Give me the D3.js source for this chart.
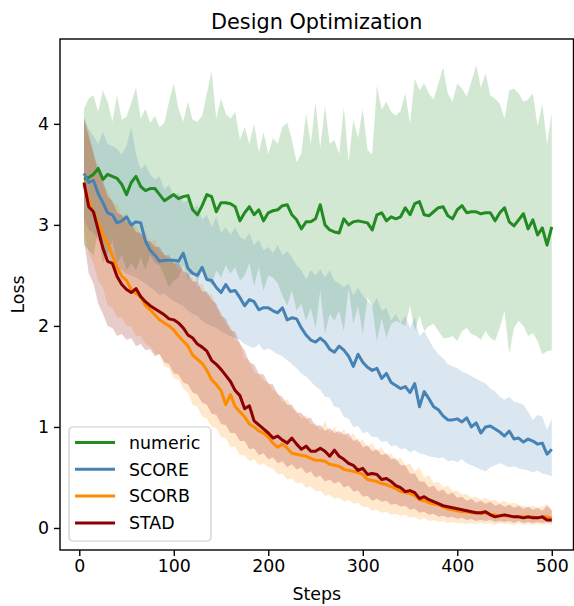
<!DOCTYPE html>
<html>
<head>
<meta charset="utf-8">
<script src="https://cdn.jsdelivr.net/npm/d3@7"></script>
<style>
  body { margin: 0; background: #fff; }
  svg { font-family: "DejaVu Sans", sans-serif; }
</style>
</head>
<body>
<svg class="one" width="574" height="606"></svg>
<script>
// steps sampled every 5 from 5 to 500
var steps = d3.range(5, 505, 5);

var seriesNames = ['numeric', 'SCORE', 'SCORB', 'STAD'];
var seriesColors = ['#228b22', '#4682b4', '#ff8c00', '#8b0000'];

var xTicks = [0, 100, 200, 300, 400, 500];
var yTicks = [0, 1, 2, 3, 4];

var numericMean = [
  3.45,3.47,3.50,3.56,3.45,3.50,3.48,3.46,3.40,3.30,
  3.42,3.48,3.38,3.34,3.36,3.36,3.30,3.24,3.27,3.30,
  3.26,3.28,3.29,3.15,3.10,3.19,3.30,3.28,3.13,3.22,
  3.22,3.21,3.18,3.04,3.12,3.18,3.10,3.15,3.04,3.12,
  3.14,3.15,3.19,3.20,3.10,3.05,2.96,3.03,3.03,3.06,
  3.20,3.00,2.95,2.93,2.92,3.06,3.00,3.03,3.04,3.03,
  3.02,2.95,3.10,3.12,3.04,3.08,3.06,3.08,3.17,3.10,
  3.21,3.23,3.10,3.09,3.13,3.17,3.18,3.09,3.06,3.15,
  3.19,3.12,3.13,3.13,3.11,3.12,3.12,3.04,3.12,3.17,
  3.03,2.99,3.05,3.11,2.96,3.05,2.90,2.97,2.80,2.98];
var numericHi = [
  4.15,4.25,4.28,4.12,4.33,4.22,4.02,4.28,4.04,4.07,
  4.21,4.36,4.05,4.15,4.01,4.08,3.97,4.01,4.22,4.40,
  4.15,4.02,4.22,4.04,4.02,4.08,4.30,4.52,4.05,4.25,
  4.10,4.05,4.12,3.84,3.97,3.80,4.00,3.72,3.92,3.70,
  3.86,3.80,3.97,4.01,3.84,3.62,3.71,4.10,3.80,4.22,
  3.76,4.18,3.80,3.84,3.70,4.17,3.62,4.04,3.86,4.15,
  3.74,3.70,4.38,4.14,4.22,4.12,4.08,4.13,4.30,4.00,
  4.45,4.33,4.40,4.30,4.24,4.40,4.56,4.30,4.22,4.40,
  4.35,4.27,4.42,4.58,4.36,4.50,4.28,4.25,4.20,4.05,
  4.33,4.35,4.30,4.22,4.24,4.30,3.98,4.20,3.80,4.11];
var numericLo = [
  2.80,2.75,2.70,2.95,2.62,2.72,2.85,2.62,2.70,2.55,
  2.62,2.55,2.68,2.55,2.70,2.62,2.60,2.50,2.38,2.45,
  2.48,2.60,2.45,2.55,2.42,2.58,2.50,2.40,2.55,2.48,
  2.60,2.52,2.58,2.45,2.50,2.62,2.40,2.58,2.35,2.50,
  2.48,2.42,2.30,2.20,2.35,2.15,2.22,2.05,2.18,1.98,
  2.35,1.92,2.12,2.05,2.15,1.95,2.38,2.02,2.20,1.92,
  2.28,2.20,1.85,2.08,1.88,2.02,2.05,2.03,2.00,2.20,
  1.95,2.10,1.95,2.00,2.02,1.95,1.88,1.88,1.90,1.85,
  1.95,1.98,1.92,1.90,1.86,1.95,1.88,1.85,1.98,2.15,
  1.72,1.98,2.05,2.00,1.90,1.93,1.85,1.72,1.75,1.76];

var scoreMean = [
  3.51,3.42,3.44,3.31,3.22,3.12,3.10,3.02,3.04,3.08,
  3.00,3.03,3.02,2.84,2.75,2.70,2.64,2.65,2.65,2.65,
  2.64,2.72,2.57,2.52,2.50,2.58,2.46,2.45,2.38,2.33,
  2.41,2.34,2.35,2.28,2.20,2.26,2.24,2.16,2.18,2.18,
  2.15,2.13,2.18,2.06,2.08,2.07,1.98,1.91,1.86,1.84,
  1.88,1.84,1.77,1.74,1.80,1.76,1.70,1.60,1.72,1.64,
  1.59,1.56,1.58,1.48,1.53,1.44,1.41,1.38,1.40,1.34,
  1.43,1.20,1.35,1.28,1.20,1.17,1.11,1.07,1.07,1.08,
  1.05,1.09,1.00,1.04,0.94,1.00,1.01,0.98,0.95,0.91,
  0.96,0.88,0.89,0.85,0.88,0.86,0.83,0.84,0.73,0.78];
var scoreHi = [
  4.07,3.95,3.88,3.80,3.92,3.80,3.78,3.75,3.70,3.78,
  3.97,3.70,3.55,3.60,3.50,3.45,3.48,3.35,3.40,3.28,
  3.32,3.22,3.25,3.15,3.20,3.05,3.10,2.98,3.08,2.92,
  2.98,2.90,2.98,2.88,2.85,2.92,2.80,2.85,2.75,2.78,
  2.72,2.80,2.70,2.74,2.68,2.60,2.55,2.46,2.55,2.50,
  2.56,2.48,2.55,2.45,2.42,2.38,2.42,2.30,2.38,2.30,
  2.25,2.20,2.28,2.15,2.18,2.05,2.12,2.03,2.10,1.98,
  2.09,1.90,1.95,1.86,1.78,1.72,1.68,1.62,1.60,1.58,
  1.55,1.53,1.50,1.48,1.45,1.43,1.38,1.35,1.30,1.27,
  1.30,1.25,1.24,1.22,1.15,1.07,1.12,1.10,0.97,1.08];
var scoreLo = [
  3.05,2.95,2.92,2.85,2.75,2.70,2.62,2.58,2.55,2.52,
  2.50,2.48,2.45,2.42,2.38,2.35,2.30,2.32,2.28,2.25,
  2.22,2.20,2.15,2.12,2.10,2.05,2.02,2.00,1.98,1.95,
  1.92,1.90,1.88,1.86,1.82,1.80,1.78,1.82,1.76,1.78,
  1.75,1.72,1.70,1.66,1.62,1.58,1.53,1.50,1.45,1.40,
  1.37,1.30,1.29,1.20,1.19,1.10,1.08,1.00,1.01,0.94,
  0.95,0.90,0.90,0.85,0.86,0.81,0.82,0.78,0.79,0.75,
  0.77,0.74,0.73,0.71,0.70,0.69,0.70,0.66,0.67,0.65,
  0.68,0.64,0.62,0.60,0.58,0.56,0.60,0.62,0.64,0.62,
  0.60,0.61,0.59,0.58,0.57,0.55,0.57,0.54,0.53,0.51];

var scorbMean = [
  3.40,3.24,3.12,3.02,2.90,2.82,2.70,2.58,2.49,2.45,
  2.36,2.32,2.29,2.20,2.16,2.11,2.06,2.03,2.00,1.96,
  1.90,1.85,1.80,1.71,1.67,1.63,1.56,1.47,1.42,1.36,
  1.22,1.32,1.20,1.15,1.10,1.03,1.00,0.96,0.94,0.90,
  0.84,0.80,0.83,0.79,0.74,0.73,0.72,0.71,0.69,0.67,
  0.67,0.66,0.63,0.62,0.61,0.58,0.57,0.56,0.55,0.53,
  0.48,0.47,0.46,0.44,0.43,0.41,0.39,0.36,0.35,0.34,
  0.32,0.28,0.27,0.25,0.24,0.23,0.21,0.19,0.18,0.17,
  0.16,0.16,0.15,0.15,0.14,0.15,0.13,0.13,0.12,0.12,
  0.12,0.11,0.11,0.11,0.11,0.11,0.10,0.11,0.11,0.10];
var scorbHi = [
  4.05,3.92,3.68,3.60,3.38,3.34,3.22,3.20,3.08,3.12,
  3.00,2.99,2.90,2.94,2.82,2.86,2.74,2.72,2.62,2.66,
  2.55,2.58,2.46,2.50,2.38,2.42,2.30,2.32,2.18,2.14,
  2.02,2.00,1.86,1.84,1.68,1.66,1.54,1.52,1.46,1.44,
  1.36,1.34,1.24,1.28,1.18,1.16,1.08,1.12,1.02,1.04,
  0.96,1.06,0.94,1.00,0.92,0.98,0.88,0.94,0.84,0.88,
  0.80,0.84,0.76,0.80,0.72,0.74,0.66,0.70,0.62,0.64,
  0.56,0.60,0.50,0.52,0.44,0.46,0.40,0.42,0.36,0.37,
  0.33,0.34,0.30,0.31,0.28,0.30,0.27,0.28,0.25,0.27,
  0.24,0.25,0.23,0.22,0.21,0.22,0.20,0.21,0.24,0.18];
var scorbLo = [
  2.95,2.72,2.62,2.45,2.38,2.20,2.18,2.08,2.08,2.00,
  2.00,1.90,1.90,1.82,1.80,1.72,1.72,1.60,1.58,1.48,
  1.47,1.38,1.34,1.22,1.20,1.10,1.08,1.00,0.99,0.90,
  0.89,0.80,0.81,0.72,0.72,0.66,0.68,0.62,0.64,0.60,
  0.59,0.53,0.54,0.48,0.49,0.44,0.45,0.40,0.41,0.36,
  0.37,0.32,0.33,0.29,0.30,0.26,0.28,0.24,0.25,0.21,
  0.21,0.17,0.18,0.15,0.16,0.13,0.14,0.12,0.13,0.10,
  0.11,0.08,0.10,0.07,0.08,0.06,0.07,0.05,0.06,0.05,
  0.05,0.04,0.05,0.04,0.05,0.04,0.05,0.03,0.05,0.04,
  0.04,0.03,0.05,0.03,0.04,0.03,0.04,0.03,0.04,0.03];

var stadMean = [
  3.42,3.18,3.13,2.95,2.77,2.64,2.62,2.49,2.41,2.36,
  2.33,2.37,2.29,2.24,2.20,2.17,2.14,2.11,2.07,2.06,
  2.03,1.98,1.91,1.88,1.82,1.79,1.75,1.66,1.62,1.57,
  1.51,1.45,1.36,1.31,1.18,1.21,1.06,1.02,0.98,0.94,
  0.89,0.91,0.87,0.84,0.89,0.83,0.78,0.81,0.76,0.76,
  0.79,0.76,0.71,0.77,0.71,0.68,0.64,0.62,0.57,0.59,
  0.53,0.54,0.53,0.48,0.49,0.46,0.42,0.40,0.36,0.37,
  0.35,0.29,0.31,0.28,0.26,0.24,0.22,0.21,0.20,0.19,
  0.18,0.17,0.16,0.15,0.15,0.16,0.13,0.11,0.12,0.13,
  0.12,0.11,0.11,0.10,0.11,0.10,0.10,0.11,0.08,0.08];
var stadHi = [
  4.05,3.88,3.72,3.52,3.44,3.28,3.24,3.12,3.10,3.03,
  3.02,2.93,2.92,2.84,2.84,2.78,2.78,2.70,2.70,2.62,
  2.62,2.54,2.52,2.44,2.44,2.34,2.34,2.26,2.22,2.10,
  2.07,1.96,1.94,1.82,1.76,1.64,1.62,1.53,1.52,1.43,
  1.42,1.32,1.30,1.22,1.22,1.14,1.14,1.08,1.09,1.01,
  1.02,0.96,0.99,0.94,0.96,0.92,0.94,0.86,0.88,0.80,
  0.82,0.76,0.78,0.72,0.74,0.68,0.69,0.62,0.62,0.54,
  0.54,0.46,0.46,0.40,0.42,0.36,0.38,0.33,0.35,0.30,
  0.31,0.27,0.29,0.25,0.27,0.24,0.26,0.22,0.24,0.21,
  0.23,0.20,0.22,0.19,0.21,0.18,0.20,0.17,0.22,0.17];
var stadLo = [
  2.85,2.52,2.42,2.22,2.12,2.00,1.98,1.90,1.92,1.86,
  1.88,1.80,1.82,1.76,1.77,1.70,1.72,1.64,1.62,1.53,
  1.52,1.44,1.42,1.34,1.32,1.24,1.22,1.13,1.12,1.03,
  1.02,0.94,0.94,0.86,0.86,0.78,0.79,0.72,0.74,0.68,
  0.70,0.64,0.66,0.60,0.63,0.58,0.60,0.54,0.56,0.50,
  0.52,0.46,0.48,0.44,0.46,0.40,0.42,0.36,0.37,0.31,
  0.32,0.27,0.29,0.26,0.27,0.23,0.24,0.21,0.22,0.18,
  0.19,0.15,0.16,0.13,0.14,0.11,0.12,0.10,0.11,0.09,
  0.10,0.08,0.09,0.07,0.08,0.07,0.08,0.06,0.07,0.06,
  0.07,0.05,0.07,0.05,0.06,0.05,0.06,0.05,0.06,0.05];

var means = [numericMean, scoreMean, scorbMean, stadMean];
var his = [numericHi, scoreHi, scorbHi, stadHi];
var los = [numericLo, scoreLo, scorbLo, stadLo];

var margins = {top: 39, bottom: 56, left: 60, right: 0.5};
var svgwidth = 574, svgheight = 606;

var svg = d3.select('.one');

var xScale = d3.scaleLinear()
               .domain([-20.4, 523])
               .range([margins.left, svgwidth - margins.right]);

var yScale = d3.scaleLinear()
               .domain([-0.218, 4.84])
               .range([svgheight - margins.bottom, margins.top]);

var areamake = function(k){
  return d3.area()
           .x(function(d, i){ return xScale(steps[i]); })
           .y0(function(d, i){ return yScale(los[k][i]); })
           .y1(function(d, i){ return yScale(his[k][i]); });
};

var linemake = d3.line()
                 .x(function(d, i){ return xScale(steps[i]); })
                 .y(function(d){ return yScale(d); });

// bands first, then lines on top
seriesNames.forEach(function(name, k){
  svg.append('path')
     .datum(means[k])
     .attr('d', areamake(k))
     .attr('fill', seriesColors[k])
     .attr('fill-opacity', 0.2)
     .attr('stroke', 'none');
});

seriesNames.forEach(function(name, k){
  svg.append('path')
     .datum(means[k])
     .attr('d', linemake)
     .attr('fill', 'none')
     .attr('stroke', seriesColors[k])
     .attr('stroke-width', 3)
     .attr('stroke-linejoin', 'round');
});

// frame
svg.append('rect')
   .attr('x', xScale.range()[0])
   .attr('y', yScale.range()[1])
   .attr('width', xScale.range()[1] - xScale.range()[0])
   .attr('height', yScale.range()[0] - yScale.range()[1])
   .attr('fill', 'none')
   .attr('stroke', '#000')
   .attr('stroke-width', 1.4);

var xAxis = d3.axisBottom(xScale).tickValues(xTicks).tickFormat(d3.format('d'))
              .tickSize(6).tickPadding(4);
var gx = svg.append('g')
   .attr('transform', 'translate(0,' + yScale.range()[0] + ')')
   .call(xAxis);
gx.select('.domain').remove();
gx.selectAll('line').attr('stroke-width', 1.4);
gx.selectAll('text').attr('font-size', '17.4px').attr('fill', '#000')
  .attr('font-family', '"DejaVu Sans", sans-serif');

var yAxis = d3.axisLeft(yScale).tickValues(yTicks).tickFormat(d3.format('d'))
              .tickSize(6).tickPadding(5);
var gy = svg.append('g')
   .attr('transform', 'translate(' + xScale.range()[0] + ',0)')
   .call(yAxis);
gy.select('.domain').remove();
gy.selectAll('line').attr('stroke-width', 1.4);
gy.selectAll('text').attr('font-size', '17.4px').attr('fill', '#000')
  .attr('font-family', '"DejaVu Sans", sans-serif');

// title and axis labels
svg.append('text')
   .attr('x', (xScale.range()[0] + xScale.range()[1]) / 2)
   .attr('y', 28.5)
   .attr('text-anchor', 'middle')
   .attr('font-size', '20.8px')
   .text('Design Optimization');

svg.append('text')
   .attr('x', (xScale.range()[0] + xScale.range()[1]) / 2)
   .attr('y', 600)
   .attr('text-anchor', 'middle')
   .attr('font-size', '17.4px')
   .text('Steps');

svg.append('text')
   .attr('transform', 'translate(24,' + (yScale.range()[0] + yScale.range()[1]) / 2 + ') rotate(-90)')
   .attr('text-anchor', 'middle')
   .attr('font-size', '17.4px')
   .text('Loss');

// legend
var legend = svg.append('g').attr('transform', 'translate(69,427)');
legend.append('rect')
      .attr('width', 142)
      .attr('height', 114)
      .attr('rx', 4)
      .attr('fill', '#fff')
      .attr('fill-opacity', 0.8)
      .attr('stroke', '#ccc')
      .attr('stroke-width', 1.2);

var rows = legend.selectAll('g.row').data(seriesNames).enter()
                 .append('g')
                 .attr('transform', function(d, i){ return 'translate(0,' + (15.5 + i * 26.8) + ')'; });
rows.append('line')
    .attr('x1', 6).attr('x2', 46)
    .attr('stroke', function(d, i){ return seriesColors[i]; })
    .attr('stroke-width', 3);
rows.append('text')
    .attr('x', 60)
    .attr('dy', '0.36em')
    .attr('font-size', '17.4px')
    .text(function(d){ return d; });
</script>
</body>
</html>
